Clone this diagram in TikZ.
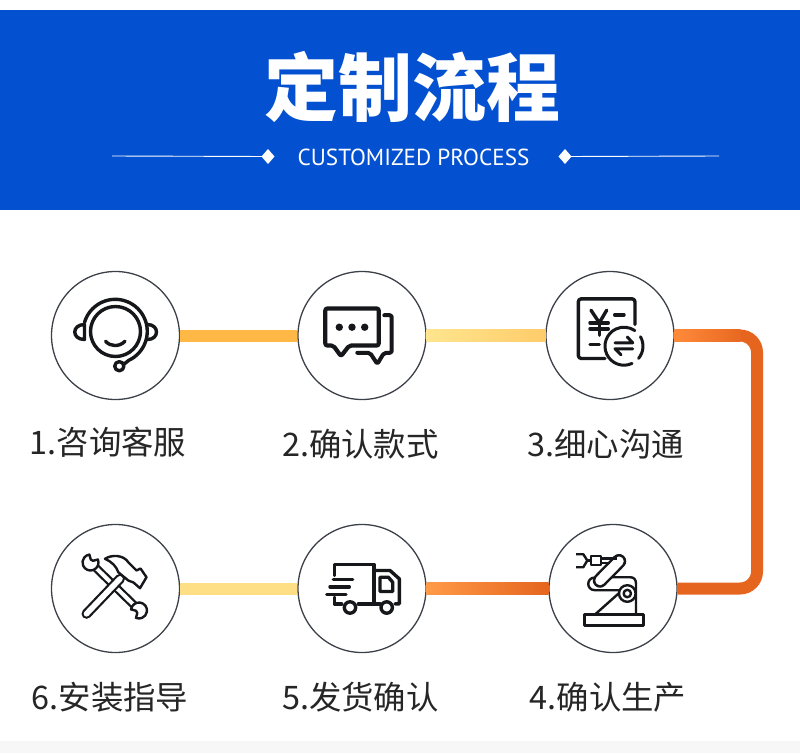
\documentclass[tikz,border=0pt]{standalone}
\usepackage{fontspec}
\newfontfamily\cjk{Noto Sans CJK SC}
\newfontfamily\latinsub{PT Sans}
\usetikzlibrary{calc}
\definecolor{bandblue}{HTML}{0351D0}
\definecolor{ringgray}{HTML}{3C4048}
\definecolor{iconblack}{HTML}{16171A}
\definecolor{barA}{HTML}{FFB845}
\definecolor{barB}{HTML}{FFE58E}
\definecolor{barC}{HTML}{FFCC6A}
\definecolor{barD}{HTML}{FFDF85}
\definecolor{barE}{HTML}{FF9A48}
\definecolor{barF}{HTML}{E5651E}
\definecolor{barG}{HTML}{FF8A3A}
\tikzset{
  stepring/.style={circle,draw=ringgray,line width=1.3pt,fill=white,minimum size=128pt,inner sep=0pt},
  steplabel/.style={font=\cjk\fontsize{32.4}{32.4}\selectfont,text=black!85,inner sep=0pt},
  bar/.style={line width=12pt},
  icon/.style={draw=iconblack,line width=3.4pt,line cap=round,line join=round},
  thinicon/.style={draw=iconblack,line width=2.4pt,line join=round}
}
\begin{document}
\begin{tikzpicture}[x=1pt,y=-1pt]
\useasboundingbox (0,0) rectangle (800,753);
\fill[white] (0,0) rectangle (800,753);
\fill[black!3] (0,741) rectangle (800,753);
% title band
\fill[bandblue] (0,10) rectangle (800,210);
\node[text=white,inner sep=0pt,font=\cjk\bfseries\fontsize{74}{74}\selectfont] (title) at (412,87){定制流程};
\node[text=white,inner sep=0pt,font=\latinsub\fontsize{23.2}{23.2}\selectfont] (subtitle) at (413.5,157){CUSTOMIZED PROCESS};
\coordinate (lineL) at (112,156);
\coordinate (lineR) at (719,156);
\coordinate (dmdL) at (268,156.5);
\coordinate (dmdR) at (565,156.5);
\draw[white,line width=.9pt] (lineL) -- (dmdL);
\draw[white,line width=.9pt] (dmdR) -- (lineR);
\fill[white] ($(dmdL)+(-6.5,0)$) -- ($(dmdL)+(0,-7.5)$) -- ($(dmdL)+(6.5,0)$) -- ($(dmdL)+(0,7.5)$) -- cycle;
\fill[white] ($(dmdR)+(-6.5,0)$) -- ($(dmdR)+(0,-7.5)$) -- ($(dmdR)+(6.5,0)$) -- ($(dmdR)+(0,7.5)$) -- cycle;
% steps
\node[stepring] (q1) at (115.5,335.5){};
\node[stepring] (q2) at (362,335.5){};
\node[stepring] (q3) at (610,335.5){};
\node[stepring] (q4) at (613,588.5){};
\node[stepring] (q5) at (362,588.5){};
\node[stepring] (q6) at (115.5,588.5){};
\node[steplabel] (l1) at (108,442){1.咨询客服};
\node[steplabel] (l2) at (360.5,444){2.确认款式};
\node[steplabel] (l3) at (605.5,444){3.细心沟通};
\node[steplabel] (l4) at (608,697){4.确认生产};
\node[steplabel] (l5) at (360.5,697){5.发货确认};
\node[steplabel] (l6) at (110,697){6.安装指导};
% connectors
\coordinate (turn) at (757,460);
\draw[bar,barA] (q1) -- (q2);
\draw[bar,barC] (q2) -- (q3);
\shade[left color=barB,right color=barC] ($(q2.east)+(0,-6)$) rectangle ($(q3.west)+(0,6)$);
\draw[bar,barF,rounded corners=17pt] (q3) -- (q3 -| turn) -- (q4 -| turn) -- (q4);
\shade[left color=barG,right color=barF!90!barG] ($(q3.east)+(0,-6)$) rectangle ($(q3.east)+(66,6)$);
\draw[bar,barD] (q6) -- (q5);
\draw[bar,barE] (q5) -- (q4);
\shade[left color=barE,right color=barF] ($(q5.east)+(0,-6)$) rectangle ($(q4.west)+(0,6)$);
% headset
\begin{scope}[shift={(q1.center)}]
\draw[icon] (0,-4) circle (25);
\draw[icon] (-31,-13) arc (196:425:32) -- (8,29);
\draw[icon] (3.8,30.7) circle (4.6);
\draw[icon] (-31,-11) .. controls (-44,-11) and (-44,4) .. (-31,4) -- cycle;
\draw[icon] (32,-11) .. controls (44,-11) and (44,4) .. (32,4);
\draw[icon] (-10,5.7) .. controls (-5,11.5) and (4,11.5) .. (9.5,5.7);
\end{scope}
% chat
\begin{scope}[shift={(q2.center)}]
\draw[icon,line width=4.2pt,rounded corners=2pt] (-36.7,-27) -- (16.7,-27) -- (16.7,10) -- (-12.7,10) -- (-21,20.7) -- (-28.7,10) -- (-36.7,10) -- cycle;
\draw[icon,line width=4pt,rounded corners=2pt] (22.3,-20.3) -- (29.7,-20.3) -- (29.7,17.3) -- (22,17.3) -- (15.3,28.5) -- (8,17.3) -- (-4.7,17.3);
\foreach \dotx in {-22.7,-10,2.7}
  \fill[iconblack] (\dotx,-8.3) circle (3.7);
\end{scope}
% price
\begin{scope}[shift={(q3.center)}]
\draw[icon,rounded corners=3pt] (25,-11) -- (25,-36.7) -- (-31.7,-36.7) -- (-31.7,23) -- (-5,23);
\draw[icon] (-19,-25.3) -- (-10.7,-12.7) -- (-3.3,-25.3);
\draw[icon] (-10.7,-12.7) -- (-10.7,-0.3);
\draw[icon] (-20,-12.7) -- (-1.7,-12.7);
\draw[icon] (-20,-6.7) -- (-1.7,-6.7);
\draw[icon] (4.7,-20.7) -- (14,-20.7);
\draw[icon] (-20,8.7) -- (-10.7,8.7);
\draw[icon,line width=3pt] (14,10.7)+(65:19) arc (65:305:19);
\draw[icon,line width=3pt] (14,10.7)+(330:19) arc (330:400:19);
\draw[icon,line width=3pt] (5,7.3) -- (22.7,7.3) -- (17.3,1.5);
\draw[icon,line width=3pt] (22.7,13.3) -- (5,13.3) -- (11,19.3);
\end{scope}
% robot
\begin{scope}[shift={(q4.center)}]
\draw[thinicon] (-28.7,26) rectangle (30.3,37);
\draw[thinicon] (-18,26) -- (7,3.7);
\draw[thinicon] (23,26) -- (23,-4.7) .. controls (23,-9) and (21,-11.3) .. (17,-11.3) -- (-1.3,-11.3);
\draw[thinicon] (-18,-11) .. controls (-27,-11) and (-27,1.7) .. (-18,1.7) -- (7,1.7);
\draw[thinicon,fill=white] (14.3,5) circle (8.3);
\draw[thinicon] (14.3,5) circle (3.7);
\draw[iconblack,line width=14.5pt,line cap=round] (6,-27.3) -- (-13,-8);
\draw[white,line width=9.5pt,line cap=round] (6,-27.3) -- (-13,-8);
\draw[thinicon] (-22.3,-32.3) rectangle (-12.3,-23.7);
\draw[thinicon] (-12.3,-30) -- (4,-30);
\draw[thinicon] (-12.3,-25.5) -- (-3,-25.5);
\draw[thinicon] (-37,-34.3) -- (-29.7,-34.3) -- (-25.7,-28) -- (-29.7,-21.3) -- (-37,-21.3);
\draw[thinicon] (-25.7,-28) -- (-22.3,-28);
\end{scope}
% truck
\begin{scope}[shift={(q5.center)}]
\draw[icon] (-27.7,-13) -- (-27.7,-24) -- (12,-24) -- (12,14.3);
\draw[icon] (12,-18) -- (28,-18) -- (37.3,-9.7) -- (37.3,15.3) -- (33,15.3);
\draw[icon] (-3.7,15.3) -- (18,15.3);
\draw[icon] (-27.7,8.7) -- (-27.7,15.3) -- (-20.3,15.3);
\draw[icon] (-12,19) circle (5.7);
\draw[icon] (24.7,19) circle (5.7);
\draw[icon] (18,-11.3) -- (26.3,-11.3) -- (30.7,-6.3) -- (30.7,3) -- (18,3) -- cycle;
\draw[icon] (-28.7,-9) -- (-9.3,-9);
\draw[icon] (-32,-1.7) -- (-12.7,-1.7);
\draw[icon] (-35.3,5.7) -- (-16,5.7);
\end{scope}
% tools
\begin{scope}[shift={(q6.center)}]
\draw[iconblack,line width=8.5pt] (-22,-23) -- (21,19);
\draw[white,line width=4pt] (-22,-23) -- (21,19);
\foreach \hx/\hy/\hd in {-25/-26/-60,23.5/22/150}
  \draw[thinicon,fill=white] (\hx,\hy) ++(\hd+38:8) arc (\hd+38:\hd+322:8) -- ($(\hx,\hy)+(\hd-25:3)$) -- ($(\hx,\hy)+(\hd+25:3)$) -- cycle;
\draw[iconblack,line width=10pt,line cap=round] (-29,25.3) -- (4.5,-9.7);
\draw[white,line width=5.6pt,line cap=round] (-29,25.3) -- (4.5,-9.7);
\draw[thinicon,fill=white] (-10.5,-29.7) .. controls (-4,-34) and (8,-34) .. (13,-26) -- (21,-18) -- (25,-20) -- (31,-11.3) -- (24.5,-0.3) -- (18,-6) -- (12.8,-8) -- (2.8,-16.3) .. controls (1,-22) and (-4,-27) .. (-10.5,-29.7) -- cycle;
\end{scope}
\end{tikzpicture}
\end{document}
